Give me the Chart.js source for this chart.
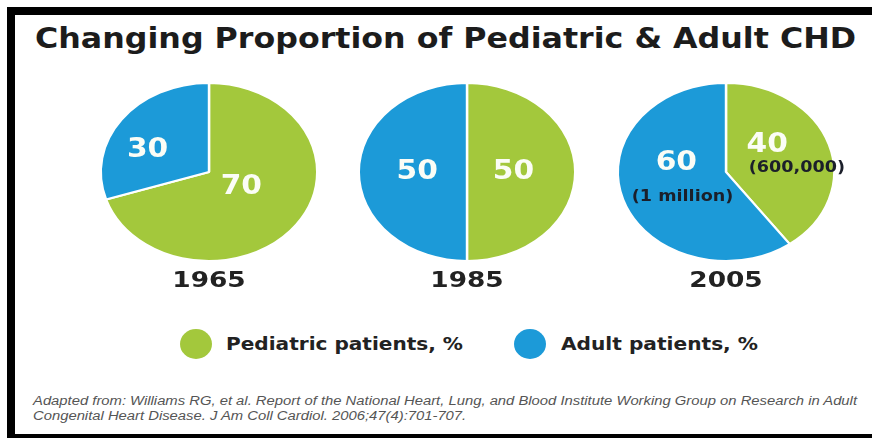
<!DOCTYPE html>
<html>
<head>
<meta charset="utf-8">
<script src="https://cdn.jsdelivr.net/npm/chart.js@4/dist/chart.umd.min.js"></script>
<style>
  html, body { margin: 0; padding: 0; background: #fff; }
  #page { position: relative; width: 872px; height: 438px; overflow: hidden; background: #fff; }
  .bar { position: absolute; background: #000; }
  .fit { position: absolute; white-space: nowrap; transform-origin: 0 0; }
  #title { left: 35px; top: 23.5px; font: bold 29px/29px "DejaVu Sans"; color: #1c1c1c; }
  .legend-text { top: 335px; font: bold 18.5px/18.5px "DejaVu Sans"; color: #222; }
  .dot { position: absolute; width: 32px; height: 30px; border-radius: 50%; }
  .note { left: 33px; font: italic 12px/14px "Liberation Sans"; color: #555; }
  canvas { position: absolute; top: 52px; }
</style>
</head>
<body>
<div id="page">
  <div class="bar" style="left:7px;top:7px;width:865px;height:8px"></div>
  <div class="bar" style="left:7px;top:7px;width:8px;height:431px"></div>
  <div class="bar" style="left:7px;top:434px;width:865px;height:4px"></div>

  <div id="title" class="fit">Changing Proportion of Pediatric &amp; Adult CHD</div>

  <canvas id="pie0" width="260" height="240" style="left:79px"></canvas>
  <canvas id="pie1" width="260" height="240" style="left:337px"></canvas>
  <canvas id="pie2" width="260" height="240" style="left:596px"></canvas>

  <div id="dot0" class="dot" style="left:180px;top:329px"></div>
  <div id="leg0" class="fit legend-text" style="left:226px"></div>
  <div id="dot1" class="dot" style="left:514px;top:329px"></div>
  <div id="leg1" class="fit legend-text" style="left:561px"></div>

  <div id="note1" class="fit note" style="top:394px">Adapted from: Williams RG, et al. Report of the National Heart, Lung, and Blood Institute Working Group on Research in Adult</div>
  <div id="note2" class="fit note" style="top:409px">Congenital Heart Disease. J Am Coll Cardiol. 2006;47(4):701-707.</div>
</div>

<script>
// Survey years and the share of congenital heart disease patients in each group
const years = ['1965', '1985', '2005'];
const seriesLabels = ['Pediatric patients, %', 'Adult patients, %'];
const pediatricPct = [70, 50, 40];
const adultPct = [30, 50, 60];
// Patient counts printed under the 2005 shares (pediatric, adult)
const countNotes = [[null, null], [null, null], ['(600,000)', '(1 million)']];

const GREEN = '#a3c83c';
const BLUE = '#1c9ad8';
const STRETCH_X = 1.216;   // pies are drawn as slightly wide ellipses

// Where each slice's text sits: fraction of radius and angle nudge (degrees) from the slice middle
const textPlace = [
  [{ r: 0.344, da: -6.3 }, { r: 0.62, da: -12.3 }],
  [{ r: 0.43, da: 0 }, { r: 0.46, da: 0 }],
  [{ r: 0.49, da: -21, nr: 0.656, nda: 14 }, { r: 0.47, da: 30.6, nr: 0.49, nda: -17 }]
];

function stretchText(ctx, text, x, y, sx) {
  ctx.save();
  ctx.translate(x, y);
  ctx.scale(sx, 1);
  ctx.fillText(text, 0, 0);
  ctx.restore();
}

// Squash the circular pie into an ellipse around its centre
const ellipsePlugin = {
  id: 'ellipse',
  beforeDatasetsDraw(chart, args, opts) {
    const arc = chart.getDatasetMeta(0).data[0];
    const ctx = chart.ctx;
    ctx.save();
    ctx.translate(arc.x, arc.y);
    ctx.scale(opts.sx, 1);
    ctx.translate(-arc.x, -arc.y);
  },
  afterDatasetsDraw(chart) {
    chart.ctx.restore();
  }
};

// Slice values, patient counts and the year caption
const sliceTextPlugin = {
  id: 'sliceText',
  afterDraw(chart, args, o) {
    const ctx = chart.ctx;
    const meta = chart.getDatasetMeta(0);
    const values = chart.data.datasets[0].data;
    const sx = o.sx;
    ctx.save();
    ctx.textAlign = 'center';
    ctx.textBaseline = 'middle';
    meta.data.forEach((arc, k) => {
      const p = o.place[k];
      const { x, y, startAngle, endAngle, outerRadius } =
        arc.getProps(['x', 'y', 'startAngle', 'endAngle', 'outerRadius'], true);
      const at = (frac, da) => {
        const a = (startAngle + endAngle) / 2 + da * Math.PI / 180;
        return [x + Math.cos(a) * outerRadius * frac * sx, y + Math.sin(a) * outerRadius * frac];
      };
      const [vx, vy] = at(p.r, p.da);
      ctx.fillStyle = '#fbfdf6';
      ctx.font = 'bold 27px "DejaVu Sans"';
      stretchText(ctx, String(values[k]), vx, vy, 1.1);
      if (o.notes[k]) {
        const [nx, ny] = at(p.nr, p.nda);
        ctx.fillStyle = '#1b1f2a';
        ctx.font = 'bold 16px "DejaVu Sans"';
        stretchText(ctx, o.notes[k], nx, ny, 1.1);
      }
    });
    const c = meta.data[0];
    ctx.fillStyle = '#222';
    ctx.font = 'bold 22px "DejaVu Sans"';
    stretchText(ctx, o.year, c.x, c.y + c.outerRadius + 20, 1.2);
    ctx.restore();
  }
};

years.forEach((year, i) => {
  new Chart(document.getElementById('pie' + i), {
    type: 'pie',
    data: {
      labels: seriesLabels,
      datasets: [{
        data: [pediatricPct[i], adultPct[i]],
        backgroundColor: [GREEN, BLUE],
        borderColor: '#ffffff',
        borderWidth: 2,
        radius: 89
      }]
    },
    options: {
      responsive: false,
      animation: false,
      events: [],
      layout: { padding: 0 },
      plugins: {
        legend: { display: false },
        tooltip: { enabled: false },
        ellipse: { sx: STRETCH_X },
        sliceText: { sx: STRETCH_X, year: year, notes: countNotes[i], place: textPlace[i] }
      }
    },
    plugins: [ellipsePlugin, sliceTextPlugin]
  });
});

// Legend
document.getElementById('dot0').style.background = GREEN;
document.getElementById('dot1').style.background = BLUE;
document.getElementById('leg0').textContent = seriesLabels[0];
document.getElementById('leg1').textContent = seriesLabels[1];

// Stretch text blocks horizontally to their set widths
function fitWidth(el, w) {
  const s = w / el.getBoundingClientRect().width;
  el.style.transform = 'scaleX(' + s + ')';
  return s;
}
fitWidth(document.getElementById('title'), 821);
fitWidth(document.getElementById('leg0'), 237);
fitWidth(document.getElementById('leg1'), 197);
const ns = fitWidth(document.getElementById('note1'), 824);
document.getElementById('note2').style.transform = 'scaleX(' + ns + ')';
</script>
</body>
</html>
